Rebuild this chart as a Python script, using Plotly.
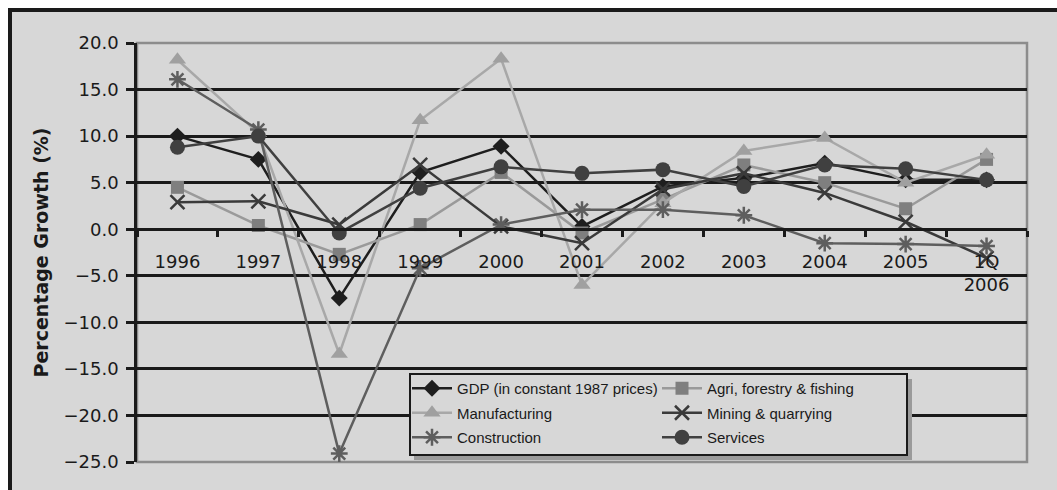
import plotly.graph_objects as go

years = ["1996", "1997", "1998", "1999", "2000", "2001", "2002", "2003", "2004", "2005", "1Q<br>2006"]
gdp = [10.0, 7.5, -7.4, 6.1, 8.9, 0.3, 4.6, 5.5, 7.1, 5.3, 5.3]
agri = [4.5, 0.4, -2.7, 0.5, 6.1, -0.4, 3.2, 6.9, 5.0, 2.2, 7.5]
manufacturing = [18.2, 10.3, -13.4, 11.7, 18.3, -6.0, 2.8, 8.4, 9.8, 5.0, 8.0]
mining = [2.9, 3.0, 0.5, 6.9, 0.3, -1.5, 4.3, 6.0, 3.9, 0.8, -3.1]
construction = [16.1, 10.7, -24.1, -4.2, 0.5, 2.1, 2.1, 1.5, -1.5, -1.6, -1.8]
services = [8.8, 10.0, -0.4, 4.4, 6.7, 6.0, 6.4, 4.6, 6.9, 6.5, 5.3]

y_ticks = [-25, -20, -15, -10, -5, 0, 5, 10, 15, 20]
y_range = [-25, 20]

# name, values, line colour, marker colour, symbol, size, legend column
series = [
    ("GDP (in constant 1987 prices)", gdp, "#1e1e1e", "#1e1e1e", "diamond", 13, "legend"),
    ("Agri, forestry & fishing", agri, "#9a9a9a", "#7f7f7f", "square", 13, "legend2"),
    ("Manufacturing", manufacturing, "#a8a8a8", "#a0a0a0", "triangle-up", 15, "legend"),
    ("Mining & quarrying", mining, "#3a3a3a", "#3a3a3a", "x-thin-open", 14, "legend2"),
    ("Construction", construction, "#5e5e5e", "#5e5e5e", "asterisk-open", 14, "legend"),
    ("Services", services, "#404040", "#404040", "circle", 15, "legend2"),
]

# plot area in pixels
W, H = 1057, 490
L, R, T, B = 137, 1027, 43, 462
pw, ph = R - L, B - T


def px(x):
    return (x - L) / pw


def py(y):
    return (B - y) / ph


fig = go.Figure()
for name, vals, lc, mc, sym, sz, lg in series:
    marker = dict(symbol=sym, size=sz, color=mc)
    if sym.endswith("open"):
        marker["line"] = dict(color=mc, width=2.5)
    fig.add_trace(go.Scatter(
        x=years, y=vals, name=name, mode="lines+markers",
        line=dict(color=lc, width=2.5), marker=marker,
        cliponaxis=False, legend=lg, legendgroup=name,
    ))

bg = "#d7d7d7"
shapes = [
    # outer frame
    dict(type="rect", xref="paper", yref="paper", x0=px(10), x1=px(1120), y0=py(560), y1=py(10),
         line=dict(color="#1a1a1a", width=4), fillcolor=bg, layer="below"),
    # plot area border (grey)
    dict(type="rect", xref="paper", yref="paper", x0=0, x1=1, y0=0, y1=1,
         line=dict(color="#8c8c8c", width=2.5), fillcolor="rgba(0,0,0,0)", layer="between"),
    # legend shadow
    dict(type="rect", xref="paper", yref="paper", x0=px(414), x1=px(912), y0=py(460), y1=py(379),
         line=dict(width=0), fillcolor="#9a9a9a", layer="above"),
    # legend box
    dict(type="rect", xref="paper", yref="paper", x0=px(410), x1=px(907), y0=py(455), y1=py(374),
         line=dict(color="#1a1a1a", width=2), fillcolor=bg, layer="above"),
]

legend_font = dict(family="Liberation Sans, Arial, sans-serif", size=15, color="#1a1a1a")
legend_common = dict(orientation="v", xanchor="left", yanchor="top",
                     bgcolor="rgba(0,0,0,0)", borderwidth=0, font=legend_font,
                     itemsizing="trace", itemwidth=40, tracegroupgap=2)

fig.update_layout(
    width=W, height=H,
    margin=dict(l=L, r=W - R, t=T, b=H - B, pad=0, autoexpand=False),
    paper_bgcolor="white",
    plot_bgcolor="rgba(0,0,0,0)",
    font=dict(family="DejaVu Sans, Verdana, sans-serif", size=18, color="#1a1a1a"),
    shapes=shapes,
    showlegend=True,
    legend=dict(x=px(407), y=py(372), **legend_common),
    legend2=dict(x=px(657), y=py(372), **legend_common),
    xaxis=dict(
        type="category", anchor="free",
        position=(0 - y_range[0]) / (y_range[1] - y_range[0]),
        showline=True, linecolor="#1a1a1a", linewidth=2.5,
        ticks="outside", tickson="boundaries", ticklen=6, tickwidth=2.5, tickcolor="#1a1a1a",
        ticklabelstandoff=15,
        showgrid=False, zeroline=False,
        tickfont=dict(size=18, family="DejaVu Sans, Verdana, sans-serif"),
        range=[-0.5, len(years) - 0.5],
    ),
    yaxis=dict(
        range=y_range, tickvals=y_ticks, tickformat=".1f",
        showline=True, linecolor="#1a1a1a", linewidth=2.5,
        ticks="outside", ticklen=8, tickwidth=2.5, tickcolor="#1a1a1a",
        ticklabelstandoff=4,
        showgrid=True, gridcolor="#1a1a1a", gridwidth=2.5,
        zeroline=False,
        tickfont=dict(size=18, family="DejaVu Sans, Verdana, sans-serif"),
        title=dict(text="<b>Percentage Growth (%)</b>", standoff=10,
                   font=dict(size=19, family="DejaVu Sans, Verdana, sans-serif")),
    ),
)

fig.write_html("out.html")
